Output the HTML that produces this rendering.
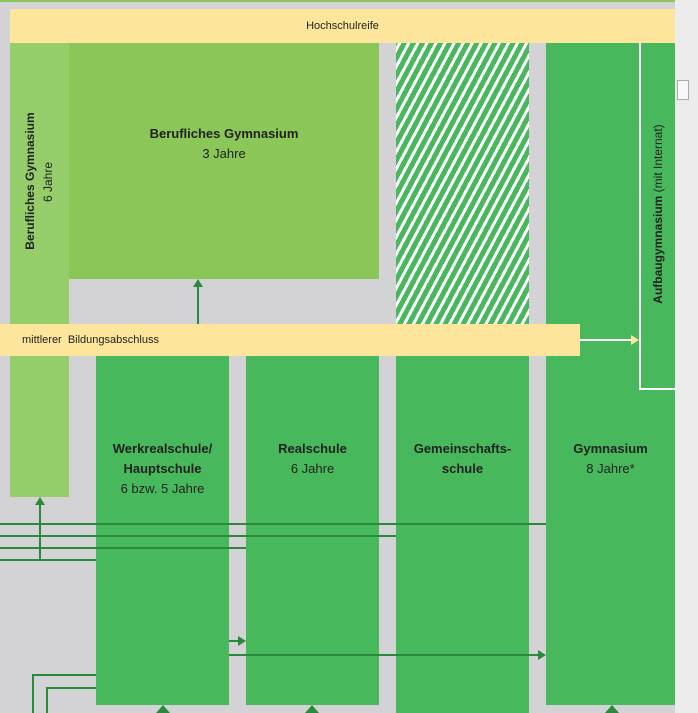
<!DOCTYPE html>
<html><head><style>
body{margin:0;width:698px;height:713px;overflow:hidden;background:#d3d3d5;font-family:"Liberation Sans",sans-serif;position:relative}
div{position:absolute;box-sizing:border-box}
.t{color:#222;font-size:13px;text-align:center;line-height:20px}
.b{font-weight:bold}
</style></head><body>
<div style="left:0;top:0;width:675px;height:2px;background:#8bc659"></div>
<div style="left:675px;top:0;width:23px;height:713px;background:#ececec"></div>
<div style="left:677px;top:80px;width:12px;height:20px;background:#f8f8f8;border:1px solid #aaa"></div>
<div style="left:10px;top:9px;width:665px;height:34px;background:#fde69c;font-size:11px;text-align:center;line-height:34px;color:#222">Hochschulreife</div>
<div style="left:10px;top:43px;width:59px;height:454px;background:#95cd6a"></div>
<div style="left:69px;top:43px;width:310px;height:236px;background:#8bc659"></div>
<div class="t" style="left:69px;top:124px;width:310px"><span class="b">Berufliches Gymnasium</span><br>3 Jahre</div>
<div style="left:396px;top:43px;width:133px;height:282px;background:repeating-linear-gradient(-62deg,#48b85c 0 5px,#fff 5px 8px)"></div>
<div style="left:546px;top:43px;width:129px;height:662px;background:#48b85c"></div>
<div style="left:639px;top:43px;width:36px;height:347px;border-left:2px solid #fff;border-bottom:2px solid #fff"></div>
<div class="t" style="left:-90px;top:173px;width:240px;line-height:16px;transform:rotate(-90deg);font-size:12px"><span class="b">Berufliches Gymnasium</span></div>
<div class="t" style="left:-72px;top:174px;width:240px;line-height:16px;transform:rotate(-90deg);font-size:12px">6 Jahre</div>
<div class="t" style="left:538px;top:206px;width:240px;line-height:16px;transform:rotate(-90deg);font-size:12px"><span class="b">Aufbaugymnasium</span> (mit Internat)</div>
<div style="left:0;top:324px;width:580px;height:32px;background:#fde69c;font-size:11px;line-height:32px;padding-left:22px;color:#222">mittlerer&nbsp; Bildungsabschluss</div>
<div style="left:96px;top:356px;width:133px;height:349px;background:#48b85c"></div>
<div style="left:246px;top:356px;width:133px;height:349px;background:#48b85c"></div>
<div style="left:396px;top:356px;width:133px;height:357px;background:#48b85c"></div>
<div class="t" style="left:96px;top:439px;width:133px"><span class="b">Werkrealschule/<br>Hauptschule</span><br>6 bzw. 5 Jahre</div>
<div class="t" style="left:246px;top:439px;width:133px"><span class="b">Realschule</span><br>6 Jahre</div>
<div class="t" style="left:396px;top:439px;width:133px"><span class="b">Gemeinschafts-<br>schule</span></div>
<div class="t" style="left:546px;top:439px;width:129px"><span class="b">Gymnasium</span><br>8 Jahre*</div>
<svg style="position:absolute;left:0;top:0" width="698" height="713">
<g stroke="#2a8a3c" stroke-width="2" fill="none">
<line x1="198" y1="324" x2="198" y2="286"/>
<line x1="0" y1="524" x2="546" y2="524"/>
<line x1="0" y1="536" x2="396" y2="536"/>
<line x1="0" y1="548" x2="246" y2="548"/>
<line x1="0" y1="560" x2="96" y2="560"/>
<line x1="40" y1="560" x2="40" y2="503"/>
<line x1="229" y1="641" x2="240" y2="641"/>
<line x1="229" y1="655" x2="540" y2="655"/>
<polyline points="33,713 33,675 96,675"/>
<polyline points="47,713 47,688 96,688"/>
</g>
<g fill="#2a8a3c">
<polygon points="198,279 193,287 203,287"/>
<polygon points="40,497 35,505 45,505"/>
<polygon points="246,641 238,636 238,646"/>
<polygon points="546,655 538,650 538,660"/>
<polygon points="163,705 156,713 170,713"/>
<polygon points="312,705 305,713 319,713"/>
<polygon points="612,705 605,713 619,713"/>
</g>
<line x1="580" y1="340" x2="632" y2="340" stroke="#fff" stroke-width="2"/>
<polygon points="639,340 631,335 631,345" fill="#fde69c"/>
</svg>
</body></html>
